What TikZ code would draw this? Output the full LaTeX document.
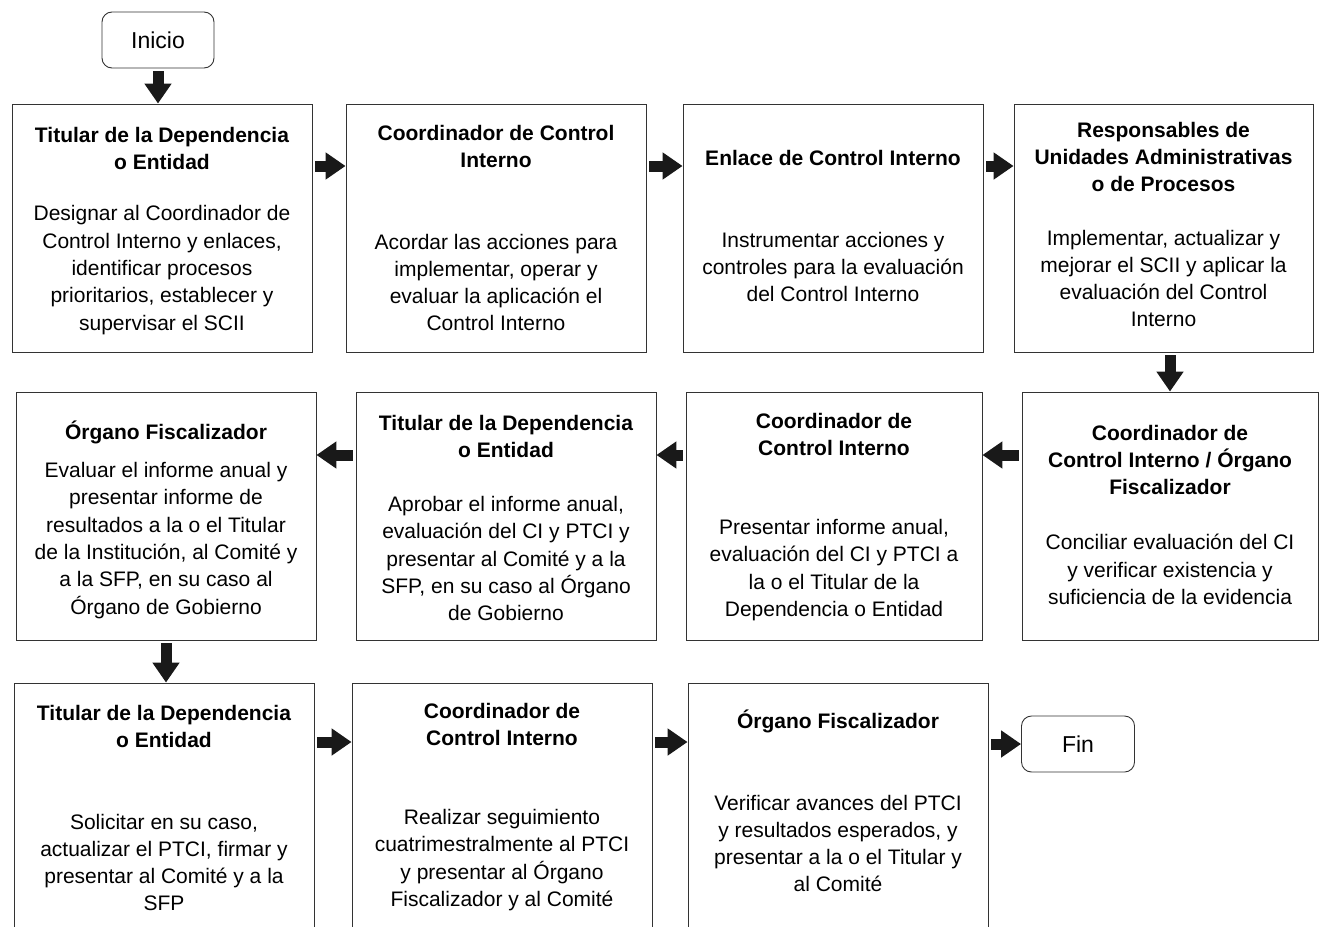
\documentclass[tikz,border=0pt]{standalone}
\usepackage{fontspec}
\setmainfont{Liberation Sans}
\usetikzlibrary{arrows.meta, positioning}

\tikzset{
  box/.style={draw=black!80, line width=0.9pt, minimum width=300pt, minimum height=248pt, inner sep=0pt},
  ttl/.style={align=center, font=\fontsize{21}{27.3}\selectfont\bfseries, inner sep=0pt},
  txt/.style={align=center, font=\fontsize{21}{27.3}\selectfont, inner sep=0pt},
  term/.style={draw=black!80, line width=0.9pt, rounded corners=10pt, minimum width=112pt, minimum height=56pt, font=\fontsize{23}{27}\selectfont},
  bigarr/.style={line width=11pt, draw=black!90, -{Triangle[length=20pt, width=26pt]}, shorten <=3pt}
}

\begin{document}
\begin{tikzpicture}[x=1pt, y=-1pt]
   \clip (0,0) rectangle (1319,926);

   % 开始
   \node[term] (ini) at (158,40) {Inicio};

   % 第一行
   \node[box] (b1) at (162,228) {};
   \node[box] (b2) at (496,228) {};
   \node[box] (b3) at (833,228) {};
   \node[box, minimum width=299pt] (b4) at (1163.5,228) {};
   \node[ttl] (t1) at (162,148.5) {Titular de la Dependencia\\o Entidad};
   \node[txt] (d1) at (162,270) {Designar al Coordinador de\\Control Interno y enlaces,\\identificar procesos\\prioritarios, establecer y\\supervisar el SCII};
   \node[ttl] (t2) at (496,146.5) {Coordinador de Control\\Interno};
   \node[txt] (d2) at (496,282.5) {Acordar las acciones para\\implementar, operar y\\evaluar la aplicación el\\Control Interno};
   \node[ttl] (t3) at (833,158) {Enlace de Control Interno};
   \node[txt] (d3) at (833,267) {Instrumentar acciones y\\controles para la evaluación\\del Control Interno};
   \node[ttl] (t4) at (1163.5,157) {Responsables de\\Unidades Administrativas\\o de Procesos};
   \node[txt] (d4) at (1163.5,278.5) {Implementar, actualizar y\\mejorar el SCII y aplicar la\\evaluación del Control\\Interno};

   % 第二行
   \node[box, minimum width=296pt] (b5) at (1170,516) {};
   \node[box, minimum width=296pt] (b6) at (834,516) {};
   \node[box] (b7) at (506,516) {};
   \node[box] (b8) at (166,516) {};
   \node[ttl] (t5) at (1170,460) {Coordinador de\\Control Interno / Órgano\\Fiscalizador};
   \node[txt] (d5) at (1170,569.5) {Conciliar evaluación del CI\\y verificar existencia y\\suficiencia de la evidencia};
   \node[ttl] (t6) at (834,434.5) {Coordinador de\\Control Interno};
   \node[txt] (d6) at (834,570) {Presentar informe anual,\\evaluación del CI y PTCI a\\la o el Titular de la\\Dependencia o Entidad};
   \node[ttl] (t7) at (506,436.5) {Titular de la Dependencia\\o Entidad};
   \node[txt] (d7) at (506,558.5) {Aprobar el informe anual,\\evaluación del CI y PTCI y\\presentar al Comité y a la\\SFP, en su caso al Órgano\\de Gobierno};
   \node[ttl] (t8) at (166,432) {Órgano Fiscalizador};
   \node[txt] (d8) at (166,540.5) {Evaluar el informe anual y\\presentar informe de\\resultados a la o el Titular\\de la Institución, al Comité y\\a la SFP, en su caso al\\Órgano de Gobierno};

   % 第三行
   \node[box, minimum height=254pt] (b9) at (164,810) {};
   \node[box, minimum height=254pt] (b10) at (502,810) {};
   \node[box, minimum height=254pt] (b11) at (838,810) {};
   \node[ttl] (t9) at (164,726.5) {Titular de la Dependencia\\o Entidad};
   \node[txt] (d9) at (164,862.5) {Solicitar en su caso,\\actualizar el PTCI, firmar y\\presentar al Comité y a la\\SFP};
   \node[ttl] (t10) at (502,724.5) {Coordinador de\\Control Interno};
   \node[txt] (d10) at (502,860) {Realizar seguimiento\\cuatrimestralmente al PTCI\\y presentar al Órgano\\Fiscalizador y al Comité};
   \node[ttl] (t11) at (838,721) {Órgano Fiscalizador};
   \node[txt] (d11) at (838,843.5) {Verificar avances del PTCI\\y resultados esperados, y\\presentar a la o el Titular y\\al Comité};

   % 结束
   \node[term, minimum width=113pt] (fin) at (1078,744) {Fin};

   % 箭头
   \draw[bigarr] (ini.south) -- (ini.south |- b1.north);
   \draw[bigarr] ([yshift=62pt]b1.east) -- ([yshift=62pt]b2.west);
   \draw[bigarr] ([yshift=62pt]b2.east) -- ([yshift=62pt]b3.west);
   \draw[bigarr] ([yshift=62pt]b3.east) -- ([yshift=62pt]b4.west);
   \draw[bigarr] (b5.north |- b4.south) -- (b5.north);
   \draw[bigarr] ([yshift=61pt]b5.west) -- ([yshift=61pt]b6.east);
   \draw[bigarr] ([yshift=61pt]b6.west) -- ([yshift=61pt]b7.east);
   \draw[bigarr] ([yshift=61pt]b7.west) -- ([yshift=61pt]b8.east);
   \draw[bigarr] (b8.south) -- (b8.south |- b9.north);
   \draw[bigarr] ([yshift=68pt]b9.east) -- ([yshift=68pt]b10.west);
   \draw[bigarr] ([yshift=68pt]b10.east) -- ([yshift=68pt]b11.west);
   \draw[bigarr] (b11.east |- fin.west) -- (fin.west);
\end{tikzpicture}
\end{document}
